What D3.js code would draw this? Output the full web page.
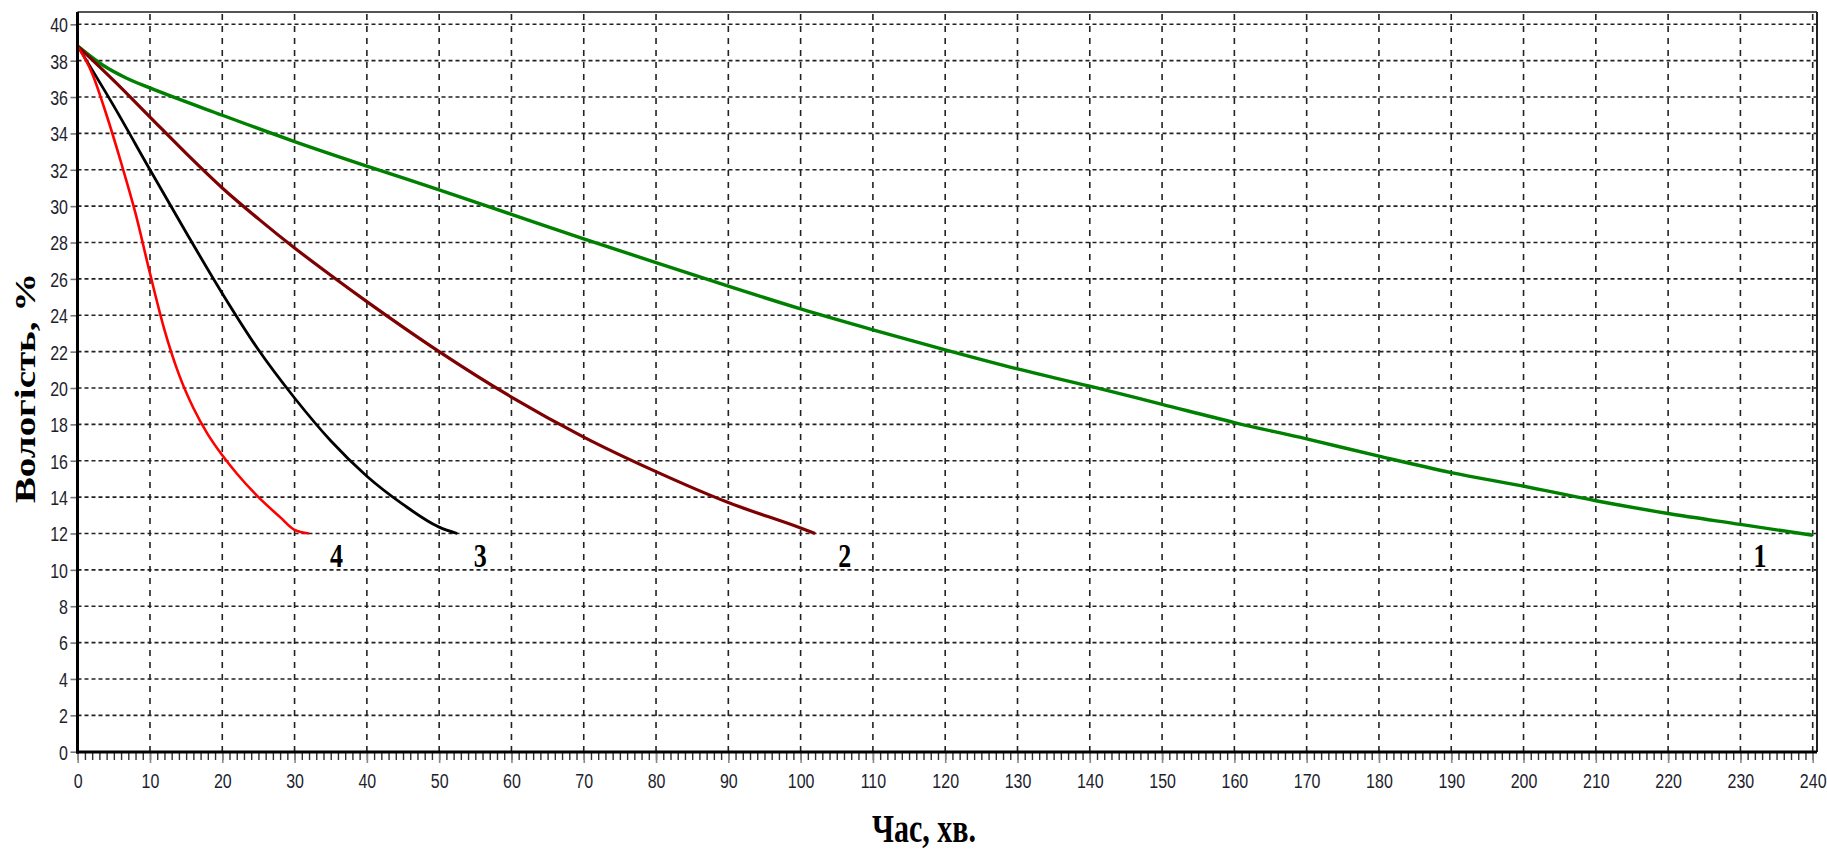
<!DOCTYPE html>
<html><head><meta charset="utf-8">
<script src="https://cdn.jsdelivr.net/npm/d3@7"></script>
<style>body{margin:0;background:#fff} svg{display:block}</style>
</head><body><svg id="c" width="1827" height="851"></svg>
<script>
// ---- data ----
const xTicks = d3.range(0, 241, 10);
const yTicks = d3.range(0, 41, 2);
const xTitle = "Час, хв.";
const yTitle = "Вологість, %";
const curveLabels = ["1", "2", "3", "4"];

const t1 = [0, 3.5, 6.7, 10, 20, 30, 40, 50, 60, 70, 80, 90, 100, 110, 120, 130, 140, 150, 160, 170, 180, 190, 200, 210, 220, 230, 240];
const m1 = [38.8, 37.75, 37.05, 36.5, 35.0, 33.55, 32.2, 30.9, 29.55, 28.2, 26.9, 25.6, 24.35, 23.2, 22.1, 21.05, 20.1, 19.1, 18.1, 17.2, 16.25, 15.35, 14.6, 13.8, 13.1, 12.5, 11.9];
const t2 = [0, 5, 10, 15, 20, 25, 30, 35, 40, 45, 50, 60, 70, 80, 90, 100, 102];
const m2 = [38.8, 36.9, 34.9, 32.9, 31.0, 29.3, 27.7, 26.2, 24.75, 23.35, 22.0, 19.5, 17.3, 15.4, 13.7, 12.3, 12.0];
const t3 = [0, 5, 10, 15, 20, 25, 30, 35, 40, 45, 50, 52.5];
const m3 = [38.8, 35.5, 32.0, 28.55, 25.2, 22.1, 19.45, 17.1, 15.15, 13.6, 12.35, 12.0];
const t4 = [0, 2, 4, 6, 8, 10, 12, 14, 16, 18, 20, 22, 25, 28, 30, 32];
const m4 = [38.8, 37.3, 35.0, 32.4, 29.6, 26.3, 23.2, 20.75, 18.9, 17.45, 16.3, 15.3, 14.0, 12.9, 12.2, 12.0];

const seriesColors = ["#008000", "#7f0000", "#000000", "#ff0000"];
const seriesWidths = [3.4, 3.2, 2.8, 2.6];
const series = [[t1, m1], [t2, m2], [t3, m3], [t4, m4]];
const labelPos = [[232.7, 12.0], [106.1, 12.0], [55.7, 12.0], [35.8, 12.0]];

// ---- layout ----
const svg = d3.select("#c");
svg.append("rect").attr("width", 1827).attr("height", 851).attr("fill", "#fff");
const x = d3.scaleLinear().domain([0, 240]).range([77.7, 1812.7]);
const y = d3.scaleLinear().domain([0, 40]).range([751.7, 24.3]);
const frameTop = 12, frameRight = 1817, frameLeft = 77.5, frameBottom = 752;
const SY = 1.3;

// grid
const grid = svg.append("g");
grid.selectAll("line.h").data(yTicks.filter(d => d > 0)).join("line")
  .attr("x1", frameLeft).attr("x2", frameRight)
  .attr("y1", d => y(d)).attr("y2", d => y(d))
  .attr("stroke", "#222").attr("stroke-width", 1.6).attr("stroke-dasharray", "4,3");
grid.selectAll("line.v").data(xTicks.filter(d => d > 0)).join("line")
  .attr("x1", d => x(d)).attr("x2", d => x(d))
  .attr("y1", frameBottom).attr("y2", frameTop)
  .attr("stroke", "#222").attr("stroke-width", 1.6).attr("stroke-dasharray", "6,6");

// frame top/right
svg.append("line").attr("x1", frameLeft).attr("x2", frameRight).attr("y1", frameTop).attr("y2", frameTop)
  .attr("stroke", "#555").attr("stroke-width", 2);
svg.append("line").attr("x1", frameRight).attr("x2", frameRight).attr("y1", frameTop).attr("y2", frameBottom)
  .attr("stroke", "#222").attr("stroke-width", 2);

// curves
const line = d3.line().x(d => x(d[0])).y(d => y(d[1])).curve(d3.curveMonotoneX);
series.forEach(([ts, ms], i) => {
  const pts = ts.map((t, k) => [t, ms[k]]);
  svg.append("path").datum(pts).attr("d", line)
    .attr("fill", "none").attr("stroke", seriesColors[i]).attr("stroke-width", seriesWidths[i])
    .attr("stroke-linejoin", "round");
});

// x axis minor ticks
const xMinor = svg.append("g").attr("transform", `translate(0,${frameBottom})`)
  .call(d3.axisBottom(x).tickValues(d3.range(0, 241, 1)).tickSize(8).tickFormat(""));
xMinor.select(".domain").remove();
xMinor.selectAll(".tick line").attr("stroke", "#333").attr("stroke-width", 1.4);

// x axis major
const xAx = svg.append("g").attr("transform", `translate(0,${frameBottom})`)
  .call(d3.axisBottom(x).tickValues(xTicks).tickSize(11).tickFormat(d3.format("d")));
xAx.select(".domain").remove();
xAx.selectAll(".tick line").attr("stroke", "#888").attr("stroke-width", 1.6);
xAx.selectAll(".tick text")
  .attr("y", 0).attr("dy", null)
  .attr("transform", `translate(0,36) scale(1,${SY})`)
  .attr("font-family", "'Liberation Sans', Arial, sans-serif").attr("font-size", 16)
  .attr("fill", "#1e1e2e");

// y axis
const yAx = svg.append("g").attr("transform", `translate(${frameLeft},0)`)
  .call(d3.axisLeft(y).tickValues(yTicks).tickSize(7).tickFormat(d3.format("d")));
yAx.select(".domain").remove();
yAx.selectAll(".tick line").attr("stroke", "#777").attr("stroke-width", 1.6);
yAx.selectAll(".tick text")
  .attr("x", 0).attr("dy", null).attr("y", 0)
  .attr("transform", `translate(-9.5,7.4) scale(1,${SY})`)
  .attr("font-family", "'Liberation Sans', Arial, sans-serif").attr("font-size", 16)
  .attr("fill", "#1e1e2e");

// axis lines (thick)
svg.append("line").attr("x1", frameLeft).attr("x2", frameLeft).attr("y1", frameTop).attr("y2", frameBottom + 1.5)
  .attr("stroke", "#000").attr("stroke-width", 3);
svg.append("line").attr("x1", frameLeft - 1.5).attr("x2", frameRight).attr("y1", frameBottom).attr("y2", frameBottom)
  .attr("stroke", "#000").attr("stroke-width", 3);

// curve labels
curveLabels.forEach((lab, i) => {
  svg.append("text").text(lab)
    .attr("transform", `translate(${x(labelPos[i][0])},${y(labelPos[i][1]) + 34}) scale(1,${SY})`)
    .attr("text-anchor", "middle")
    .attr("font-family", "'Liberation Serif', 'Times New Roman', serif").attr("font-weight", "bold")
    .attr("font-size", 26).attr("fill", "#000");
});

// titles
svg.append("text").text(xTitle)
  .attr("transform", `translate(924,842) scale(1,${SY})`)
  .attr("text-anchor", "middle")
  .attr("font-family", "'Liberation Serif', 'Times New Roman', serif").attr("font-weight", "bold")
  .attr("font-size", 30).attr("fill", "#000");
svg.append("text").text(yTitle)
  .attr("transform", `translate(35,388) rotate(-90) scale(${SY},1)`)
  .attr("text-anchor", "middle")
  .attr("font-family", "'Liberation Serif', 'Times New Roman', serif").attr("font-weight", "bold")
  .attr("font-size", 30).attr("fill", "#000");
</script></body></html>
